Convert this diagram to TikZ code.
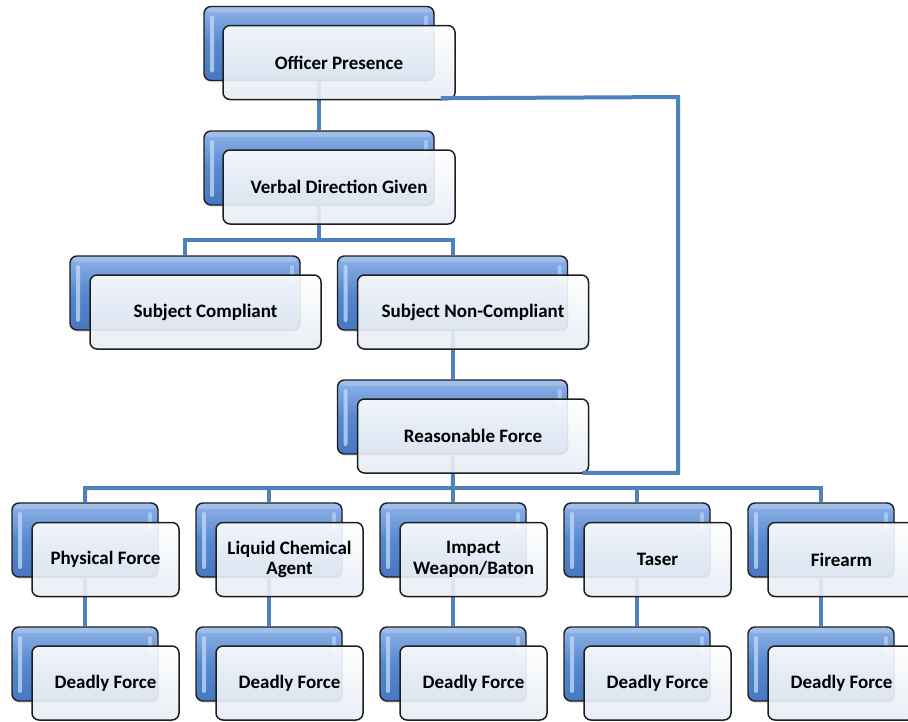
\documentclass[tikz,border=0pt]{standalone}
\usepackage{fontspec}
\setmainfont{Carlito}
\usetikzlibrary{shadows,calc}
\definecolor{lineblue}{HTML}{4F81BD}
\definecolor{bluetop}{HTML}{8FB4E8}
\definecolor{bluemid}{HTML}{5688CF}
\definecolor{bluebot}{HTML}{4677BF}
\definecolor{bluelight}{HTML}{C4DAF5}
\definecolor{whitebot}{HTML}{E6ECF4}
\definecolor{edge}{HTML}{1E1E1E}
\begin{document}
\begin{tikzpicture}[x=1pt,y=-1pt,
  bluebox/.style={draw=edge, line width=1.4pt, rounded corners=7pt,
    top color=bluetop, bottom color=bluebot, middle color=bluemid,
    minimum height=74pt, inner sep=0pt,
    drop shadow={shadow xshift=1pt, shadow yshift=-2pt, opacity=0.2},
    path picture={
      \fill[bluelight,opacity=0.75,rounded corners=2pt]
        ($(path picture bounding box.north west)+(6,9)$) rectangle
        ($(path picture bounding box.south west)+(10,-8)$);
      \fill[bluelight,opacity=0.6,rounded corners=2pt]
        ($(path picture bounding box.north east)+(-10,9)$) rectangle
        ($(path picture bounding box.north east)+(-6,26)$);
      \fill[white,opacity=0.18]
        ($(path picture bounding box.north west)+(0,0)$) rectangle
        ($(path picture bounding box.north east)+(0,6)$);
    }},
  whitebox/.style={draw=edge, line width=1.5pt, rounded corners=7pt,
    top color=white, bottom color=whitebot, fill opacity=0.9, draw opacity=1, text opacity=1,
    minimum height=74pt, inner sep=0pt, align=center,
    font=\bfseries\fontsize{19}{20.5}\selectfont},
  wide/.style={minimum width=230pt},
  narrow/.style={minimum width=146pt},
  conn/.style={draw=lineblue, line width=4pt}]
\useasboundingbox (0,0) rectangle (908,721);

% bus coordinates
\coordinate (bus1) at (319,240);
\coordinate (bus2) at (453,488);
\coordinate (elb) at (678,97);

% blue boxes
\node[bluebox,wide] (opB) at (319,43.5) {};
\node[bluebox,wide] (vdB) at (319,168) {};
\node[bluebox,wide] (scB) at (185,293) {};
\node[bluebox,wide] (ncB) at (452.5,293) {};
\node[bluebox,wide] (rfB) at (452.5,417) {};
\node[bluebox,narrow] (pfB) at (85,540) {};
\node[bluebox,narrow] (lcB) at (269,540) {};
\node[bluebox,narrow] (iwB) at (453,540) {};
\node[bluebox,narrow] (tsB) at (637,540) {};
\node[bluebox,narrow] (faB) at (821,540) {};
\node[bluebox,narrow] (d1B) at (85,664) {};
\node[bluebox,narrow] (d2B) at (269,664) {};
\node[bluebox,narrow] (d3B) at (453,664) {};
\node[bluebox,narrow] (d4B) at (637,664) {};
\node[bluebox,narrow] (d5B) at (821,664) {};

% connectors (behind the front boxes)
\draw[conn] (opB.south) -- (vdB.north);
\draw[conn] (vdB.south) -- (bus1) -| (scB.north);
\draw[conn] (bus1) -| (ncB.north);
\draw[conn] (ncB.south) -- (rfB.north);
\draw[conn] (rfB.south) -- (bus2) -| (pfB.north);
\draw[conn] (bus2) -| (lcB.north);
\draw[conn] (bus2) -- (iwB.north);
\draw[conn] (bus2) -| (tsB.north);
\draw[conn] (bus2) -| (faB.north);
\draw[conn] (pfB.south) -- (d1B.north);
\draw[conn] (lcB.south) -- (d2B.north);
\draw[conn] (iwB.south) -- (d3B.north);
\draw[conn] (tsB.south) -- (d4B.north);
\draw[conn] (faB.south) -- (d5B.north);

% front boxes
\node[whitebox,minimum width=232pt] (op) at (339,62.5) {Officer Presence};
\node[whitebox,minimum width=232pt] (vd) at (339,187) {Verbal Direction Given};
\node[whitebox,minimum width=231pt] (sc) at (205.5,312) {Subject Compliant};
\node[whitebox,minimum width=231pt] (nc) at (473,312) {Subject Non-Compliant};
\node[whitebox,minimum width=231pt] (rf) at (473,436) {Reasonable Force};
\node[whitebox,minimum width=147pt] (pf) at (105.5,559.5) {Physical Force};
\node[whitebox,minimum width=147pt] (lc) at (289.5,559.5) {Liquid Chemical\\Agent};
\node[whitebox,minimum width=147pt] (iw) at (473.5,559.5) {Impact\\Weapon/Baton};
\node[whitebox,minimum width=147pt] (ts) at (657.5,559.5) {Taser};
\node[whitebox,minimum width=147pt] (fa) at (841.5,559.5) {Firearm};
\node[whitebox,minimum width=147pt] (d1) at (105.5,683) {Deadly Force};
\node[whitebox,minimum width=147pt] (d2) at (289.5,683) {Deadly Force};
\node[whitebox,minimum width=147pt] (d3) at (473.5,683) {Deadly Force};
\node[whitebox,minimum width=147pt] (d4) at (657.5,683) {Deadly Force};
\node[whitebox,minimum width=147pt] (d5) at (841.5,683) {Deadly Force};

% loop-back connector from Officer Presence to Reasonable Force
\coordinate (opEnd) at ($(op.south east)+(-15,-2)$);
\coordinate (rfEnd) at ($(rf.south east)+(-7,-1)$);
\draw[conn] (opEnd) -- (elb) |- (rfEnd);
\end{tikzpicture}
\end{document}
